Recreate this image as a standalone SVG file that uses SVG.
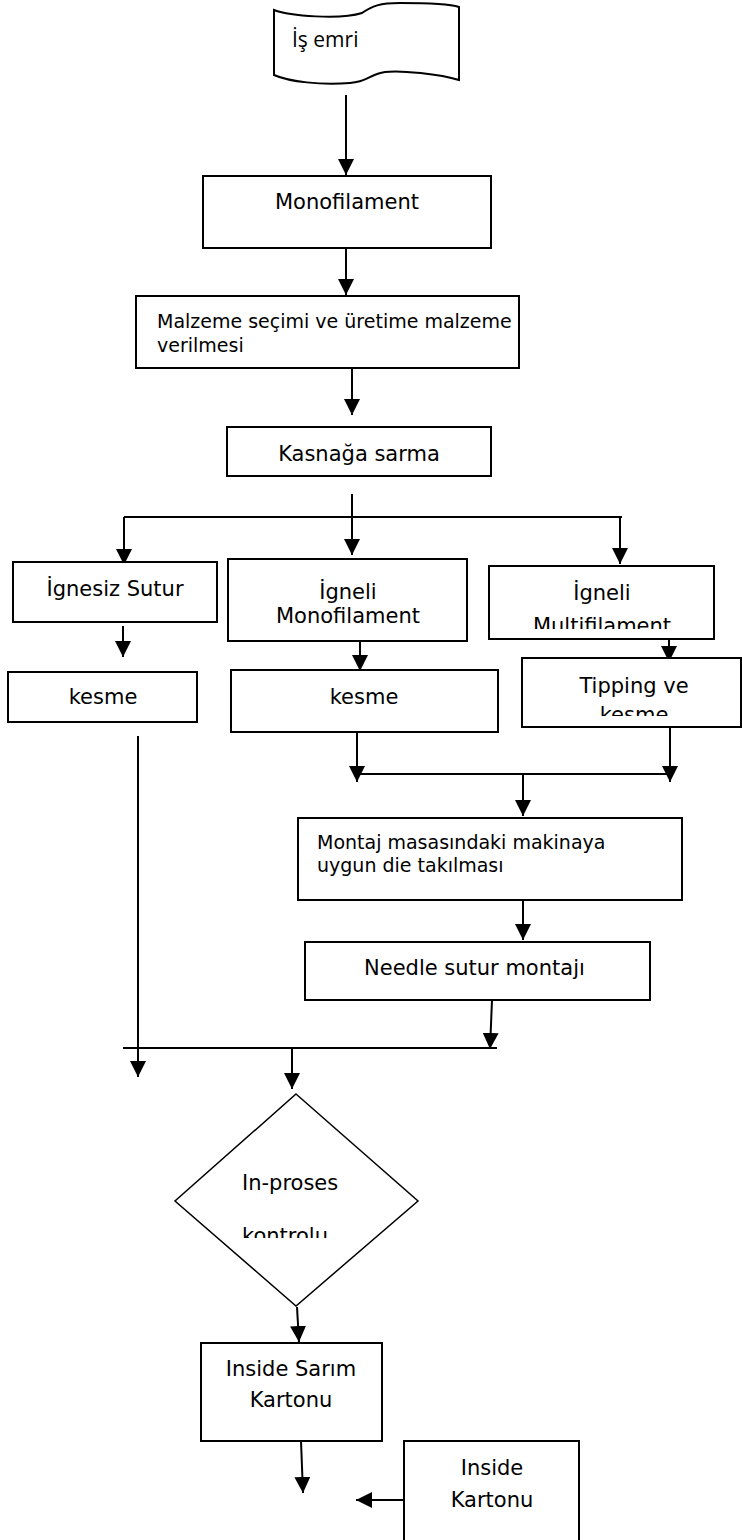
<svg xmlns="http://www.w3.org/2000/svg" width="742" height="1540" viewBox="0 0 742 1540">
<style>
.box{fill:#fff;stroke:#000;stroke-width:2}
.dia{fill:#fff;stroke:#000;stroke-width:1.5}
.ln{fill:none;stroke:#000;stroke-width:2}
.ar{fill:none;stroke:#000;stroke-width:2;marker-end:url(#ah)}
.t{font-family:"DejaVu Sans",Verdana,sans-serif;font-size:21px;fill:#000}
.s{font-family:"DejaVu Sans",Verdana,sans-serif;font-size:19px;fill:#000}
.c{text-anchor:middle}
.d{font-family:"Open Sans","Liberation Sans",sans-serif;font-size:21px;fill:#000}
</style>
<defs>
<marker id="ah" viewBox="0 0 16 16" refX="16" refY="8" markerUnits="userSpaceOnUse" markerWidth="16" markerHeight="16" orient="auto">
<path d="M0,0 L16,8 L0,16 Z" fill="#000"/>
</marker>
<clipPath id="cMulti"><rect x="489" y="566" width="226" height="63"/></clipPath>
<clipPath id="cTip"><rect x="522" y="658" width="220" height="58"/></clipPath>
<clipPath id="cKon"><rect x="175" y="1094" width="243" height="144"/></clipPath>
</defs>

<g id="connectors">
<line class="ar" x1="346" y1="95" x2="346" y2="175"/>
<line class="ar" x1="346" y1="248" x2="346" y2="295"/>
<line class="ar" x1="352" y1="368" x2="352" y2="415"/>
<line class="ar" x1="352" y1="494" x2="352" y2="555"/>
<line class="ln" x1="124" y1="517" x2="622" y2="517"/>
<line class="ar" x1="124" y1="517" x2="124" y2="565"/>
<line class="ar" x1="620" y1="517" x2="620" y2="564"/>
<line class="ar" x1="123" y1="626" x2="123" y2="657"/>
<line class="ar" x1="360" y1="631" x2="360" y2="671"/>
<line class="ar" x1="669" y1="627" x2="669" y2="662"/>
<line class="ar" x1="357" y1="732" x2="357" y2="782"/>
<line class="ar" x1="670" y1="727" x2="670" y2="782"/>
<line class="ln" x1="357" y1="774" x2="670" y2="774"/>
<line class="ar" x1="523" y1="774" x2="523" y2="816"/>
<line class="ar" x1="523" y1="900" x2="523" y2="940"/>
<line class="ar" x1="138" y1="736" x2="138" y2="1077"/>
<line class="ar" x1="492" y1="1000" x2="490" y2="1049"/>
<line class="ln" x1="123" y1="1048" x2="497" y2="1048"/>
<line class="ar" x1="292" y1="1048" x2="292" y2="1089"/>
<line class="ar" x1="297" y1="1307" x2="299" y2="1342"/>
<line class="ar" x1="301" y1="1441" x2="303" y2="1493"/>
<line class="ar" x1="410" y1="1500" x2="356" y2="1500"/>
</g>

<g id="is-emri">
<path class="box" d="M274,10 C290,16 340,20 362,13 C372,6 380,3 400,3 C430,3 450,4 459,7 L459,80 C440,74 400,70 385,72 C370,74 368,82 350,83 C320,85 290,82 274,75 Z"/>
<text class="d" x="292" y="47">İş emri</text>
</g>

<g id="monofilament">
<rect class="box" x="203" y="176" width="288" height="72"/>
<text class="t c" x="347" y="209">Monofilament</text>
</g>

<g id="malzeme">
<rect class="box" x="136" y="296" width="383" height="72"/>
<text class="s" x="157" y="328">Malzeme seçimi ve üretime malzeme</text>
<text class="s" x="157" y="352">verilmesi</text>
</g>

<g id="kasnaga">
<rect class="box" x="227" y="427" width="264" height="49"/>
<text class="t c" x="359" y="461">Kasnağa sarma</text>
</g>

<g id="ignesiz">
<rect class="box" x="13" y="562" width="204" height="60"/>
<text class="t c" x="115" y="596">İgnesiz Sutur</text>
</g>

<g id="igneli-mono">
<rect class="box" x="228" y="559" width="239" height="82"/>
<text class="t c" x="348" y="599">İgneli</text>
<text class="t c" x="348" y="623">Monofilament</text>
</g>

<g id="igneli-multi">
<rect class="box" x="489" y="566" width="225" height="73"/>
<g clip-path="url(#cMulti)">
<text class="t c" x="602" y="600">İgneli</text>
<text class="t c" x="602" y="633">Multifilament</text>
</g>
</g>

<g id="kesme-left">
<rect class="box" x="8" y="672" width="189" height="50"/>
<text class="t c" x="103" y="704">kesme</text>
</g>

<g id="kesme-mid">
<rect class="box" x="231" y="670" width="267" height="62"/>
<text class="t c" x="364" y="704">kesme</text>
</g>

<g id="tipping">
<rect class="box" x="522" y="658" width="219" height="69"/>
<g clip-path="url(#cTip)">
<text class="t c" x="634" y="693">Tipping ve</text>
<text class="t c" x="634" y="722">kesme</text>
</g>
</g>

<g id="montaj">
<rect class="box" x="298" y="818" width="384" height="82"/>
<text class="s" x="317" y="849">Montaj masasındaki makinaya</text>
<text class="s" x="317" y="872">uygun die takılması</text>
</g>

<g id="needle">
<rect class="box" x="305" y="942" width="345" height="58"/>
<text class="t" x="364" y="975">Needle sutur montajı</text>
</g>

<g id="inproses">
<polygon class="dia" points="296,1094 418,1201 296,1306 175,1201"/>
<g clip-path="url(#cKon)">
<text class="t" x="242" y="1190">In-proses</text>
<text class="t" x="242" y="1243">kontrolu</text>
</g>
</g>

<g id="inside-sarim">
<rect class="box" x="201" y="1343" width="181" height="98"/>
<text class="t c" x="291" y="1376">Inside Sarım</text>
<text class="t c" x="291" y="1407">Kartonu</text>
</g>

<g id="inside-kartonu">
<rect class="box" x="404" y="1441" width="175" height="110"/>
<text class="t c" x="492" y="1475">Inside</text>
<text class="t c" x="492" y="1507">Kartonu</text>
</g>
</svg>
